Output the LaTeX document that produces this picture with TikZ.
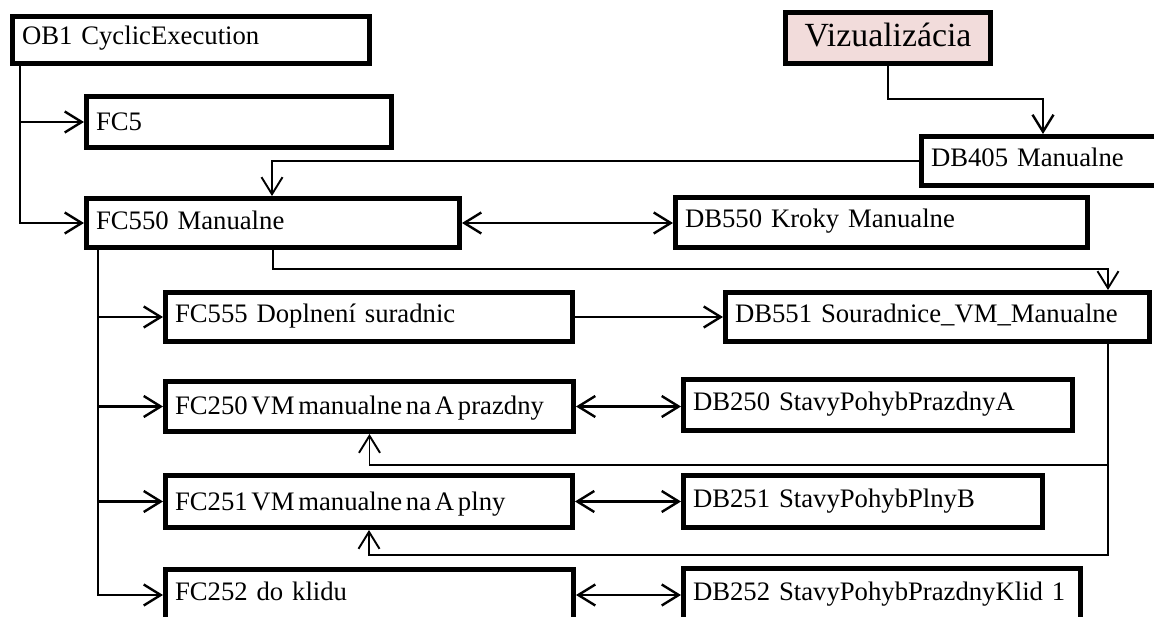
\documentclass[tikz,border=0pt]{standalone}
\usepackage{fontspec}
\setmainfont{Liberation Serif}
\usetikzlibrary{arrows.meta}
\definecolor{vizfill}{RGB}{242,220,219}
\begin{document}
\begin{tikzpicture}[x=1pt,y=-1pt,
  box/.style={draw, line width=5pt, anchor=north west, inner xsep=9.5pt,
    inner ysep=0pt, align=left, text height=17pt, text depth=5pt,
    font=\fontsize{26.7}{31}\selectfont},
  link/.style={line width=2.4pt},
  thin link/.style={line width=1.9pt},
  >={Straight Barb[length=17pt,width=21pt]}]
\useasboundingbox (0,0) rectangle (1154,617);
\fill[white] (0,0) rectangle (1154,617);

% program blocks
\node[box, text width=338pt, minimum height=47pt, text depth=7pt] (ob1) at (10,14) {\mbox{OB1 CyclicExecution}};
\node[box, text width=286pt, minimum height=51pt, text depth=0pt] (fc5) at (84,94) {FC5};
\node[box, fill=vizfill, align=center, text width=186pt, minimum height=51pt,
      text height=22pt, text depth=4pt, font=\fontsize{33.8}{39}\selectfont] (viz) at (783,10) {Vizualizácia};
\node[box, text width=225pt, minimum height=49pt] (db405) at (919,134) {\mbox{DB405 Manualne}};
\node[box, text width=354pt, minimum height=49pt, text depth=3pt] (fc550) at (84,196) {\mbox{FC550 Manualne}};
\node[box, text width=393pt, minimum height=50pt, text depth=6pt] (db550) at (673,195) {\mbox{DB550 Kroky Manualne}};
\node[box, text width=388pt, minimum height=49pt] (fc555) at (163,290) {\mbox{FC555 Doplnení suradnic}};
\node[box, text width=405pt, minimum height=49pt] (db551) at (723,290) {\mbox{DB551 Souradnice\_VM\_Manualne}};
\node[box, text width=389pt, minimum height=50pt, text depth=0pt] (fc250) at (163,379) {\mbox{\spaceskip=3.8pt\relax FC250 VM manualne na A prazdny}};
\node[box, text width=370pt, minimum height=51pt, text depth=7pt] (db250) at (681,377) {\mbox{DB250 StavyPohybPrazdnyA}};
\node[box, text width=388pt, minimum height=52pt, text depth=0pt] (fc251) at (163,473) {\mbox{\spaceskip=3.8pt\relax FC251 VM manualne na A plny}};
\node[box, text width=340pt, minimum height=52pt, text depth=6pt] (db251) at (681,473) {\mbox{DB251 StavyPohybPlnyB}};
\node[box, text width=389pt, minimum height=51pt, text depth=7pt] (fc252) at (163,567) {\mbox{FC252 do klidu}};
\node[box, text width=378pt, minimum height=51pt] (db252) at (681,566) {\mbox{DB252 StavyPohybPrazdnyKlid 1}};

% calls from OB1
\coordinate (ob1bus) at ([xshift=10pt]ob1.south west);
\draw[link,->] (ob1bus) |- (fc550.west);
\draw[link,->] (ob1bus |- fc5.west) -- (fc5.west);

% visualisation writes DB405, which feeds FC550
\coordinate (vizturn) at ([yshift=-33pt]viz.south);
\draw[link,->] (viz.south) -- (vizturn) -| ([xshift=124pt]db405.north west);
\draw[thin link,->] (db405.west) -| ([xshift=188pt]fc550.north west);

% FC550 and its data
\draw[link,<->] (fc550.east) -- (fc550.east -| db550.west);
\coordinate (fc550drop) at ([yshift=-19pt]fc550.south);
\draw[thin link,->] (fc550.south) -- (fc550drop) -| ([xshift=-44pt]db551.north east);

% calls from FC550
\coordinate (fc550bus) at ([xshift=14pt]fc550.south west);
\draw[link,->] (fc550bus) |- (fc252.west);
\foreach \n in {fc555,fc250,fc251}
  \draw[link,->] (fc550bus |- \n.west) -- (\n.west);

% function blocks and their data blocks
\draw[link,->] (fc555.east) -- (fc555.east -| db551.west);
\draw[link,<->] (fc250.east) -- (fc250.east -| db250.west);
\draw[link,<->] (fc251.east) -- (fc251.east -| db251.west);
\draw[link,<->] (fc252.east) -- (fc252.east -| db252.west);

% coordinates from DB551 into FC250 and FC251
\coordinate (db551tap) at ([xshift=-44pt]db551.south east);
\draw[thin link,->] (db551tap) |- ([yshift=-31pt]fc250.south) -- (fc250.south);
\draw[thin link,->] (db551tap) |- ([yshift=-25pt]fc251.south) -- (fc251.south);
\end{tikzpicture}
\end{document}
